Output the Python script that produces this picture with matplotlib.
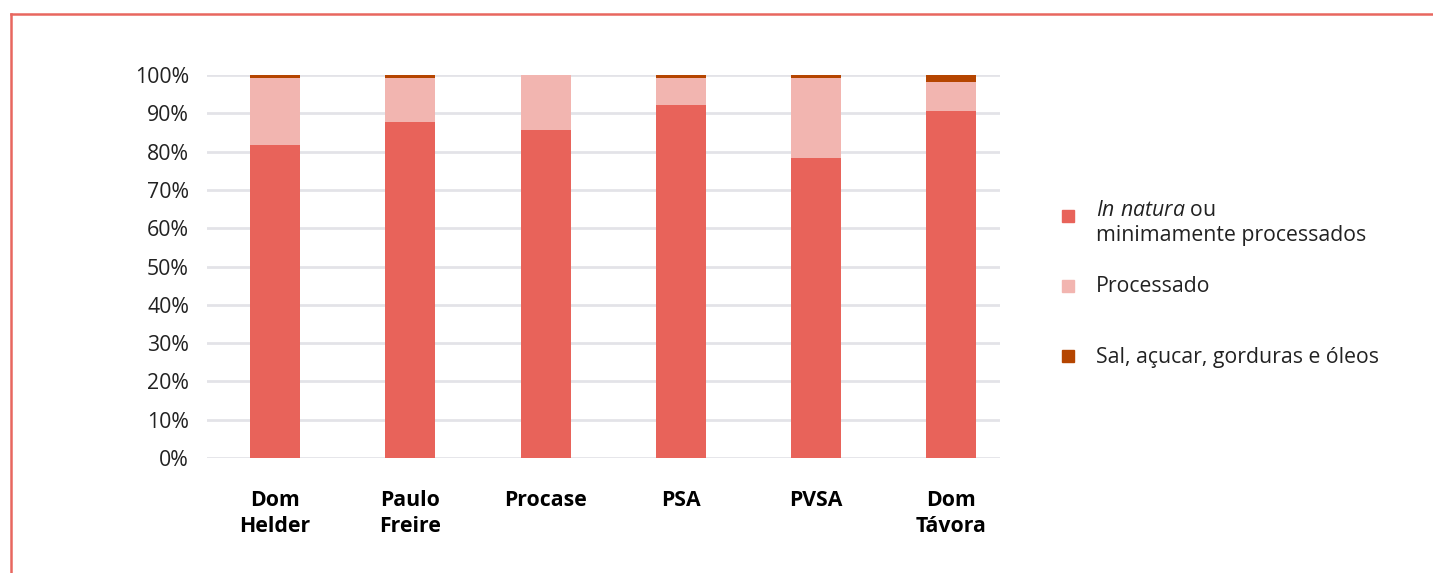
import matplotlib.pyplot as plt
from matplotlib.lines import Line2D
from matplotlib.patches import Rectangle
import numpy as np

plt.rcParams['font.family'] = ['Open Sans', 'DejaVu Sans']
plt.rcParams['mathtext.fontset'] = 'custom'
plt.rcParams['mathtext.rm'] = 'Open Sans'
plt.rcParams['mathtext.it'] = 'Open Sans:italic'

categories = ['Dom\nHelder', 'Paulo\nFreire', 'Procase', 'PSA', 'PVSA', 'Dom\nTávora']
in_natura = [81.7, 87.7, 85.6, 92.2, 78.4, 90.6]
processado = [17.6, 11.6, 14.4, 7.0, 20.8, 7.6]
sal_acucar = [0.7, 0.7, 0.0, 0.8, 0.8, 1.8]

series_labels = ['$\\it{In\\ natura}$ ou\nminimamente processados', 'Processado',
                 'Sal, açucar, gorduras e óleos']
colors = ['#E8635A', '#F2B5B0', '#B54500']

FS = 15.3

fig = plt.figure(figsize=(14.33, 5.73), dpi=100)
ax = fig.add_axes([0.1445, 0.2007, 0.5533, 0.6684])

x = np.arange(len(categories))
w = 0.37
bottom = np.zeros(len(categories))
for vals, c in zip([in_natura, processado, sal_acucar], colors):
    ax.bar(x, vals, w, bottom=bottom, color=c, zorder=3)
    bottom += np.array(vals)

ax.set_ylim(0, 100)
ax.set_xlim(-0.503, 5.36)
ax.set_yticks(np.arange(0, 101, 10))
ax.set_yticklabels([f'{v}%' for v in range(0, 101, 10)], fontsize=FS, color='#222222')
ax.set_xticks(x)
ax.set_xticklabels(categories, fontsize=FS, fontweight='bold', linespacing=1.3)
ax.tick_params(axis='both', length=0)
ax.tick_params(axis='x', pad=23)
ax.tick_params(axis='y', pad=13)
ax.yaxis.grid(True, color='#E3E3E8', linewidth=2, zorder=0)
for s in ax.spines.values():
    s.set_visible(False)

# legend drawn by hand
W, H = 1433, 573
leg_y = [216, 286, 356]
for lab, c, yy in zip(series_labels, colors, leg_y):
    fig.add_artist(Rectangle((1062 / W, 1 - (yy + 6) / H), 12 / W, 12 / H,
                             transform=fig.transFigure, color=c))
    ty = yy + 7 if '\n' in lab else yy + 1
    fig.text(1096 / W, 1 - ty / H, lab, fontsize=FS, va='center', ha='left',
             color='#222222', linespacing=1.25)

# border
border = '#E8675F'
fig.add_artist(Line2D([10.5 / W, 1.0], [1 - 13.5 / H, 1 - 13.5 / H], color=border, lw=1.8,
                      transform=fig.transFigure))
fig.add_artist(Line2D([10.5 / W, 10.5 / W], [1 - 13.5 / H, 0], color=border, lw=1.8,
                      transform=fig.transFigure))

fig.savefig('out.png', dpi=100)
